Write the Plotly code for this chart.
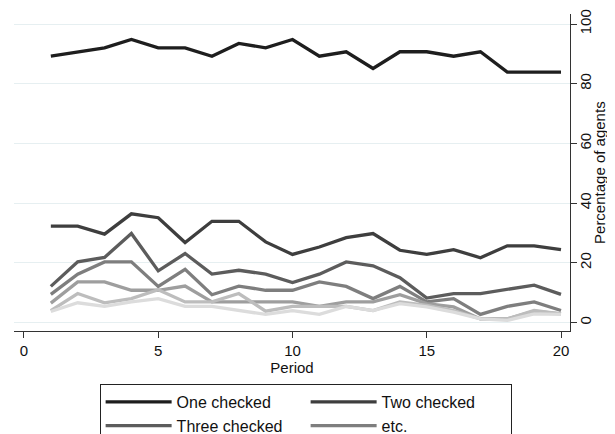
import plotly.graph_objects as go

periods = list(range(1, 21))

one_checked = [89.2, 90.6, 92.0, 94.8, 92.0, 92.0, 89.2, 93.5, 92.0, 94.8,
               89.2, 90.7, 85.1, 90.7, 90.7, 89.2, 90.7, 83.9, 83.9, 83.9]
two_checked = [32.3, 32.3, 29.6, 36.4, 35.1, 26.8, 33.9, 33.9, 27.0, 22.8,
               25.3, 28.4, 29.8, 24.2, 22.8, 24.4, 21.7, 25.7, 25.7, 24.4]
three_checked = [12.1, 20.3, 21.8, 29.8, 17.3, 23.1, 16.2, 17.5, 16.2, 13.4,
                 16.2, 20.3, 19.0, 15.0, 8.2, 9.7, 9.7, 11.0, 12.5, 9.4]
four_checked = [9.4, 16.2, 20.3, 20.3, 12.1, 17.8, 9.3, 12.2, 10.8, 10.8,
                13.6, 12.1, 8.0, 12.1, 6.9, 8.0, 2.7, 5.4, 6.9, 4.0]
five_checked = [6.5, 13.6, 13.6, 10.8, 10.8, 12.2, 6.9, 6.9, 6.9, 6.9,
                5.4, 6.9, 6.9, 9.3, 6.3, 5.2, 1.2, 1.2, 3.8, 2.9]
six_checked = [4.0, 9.7, 6.6, 8.0, 11.0, 6.9, 6.9, 9.7, 3.8, 5.4,
               5.4, 5.4, 4.0, 6.9, 5.7, 4.0, 1.2, 1.2, 4.0, 2.9]
seven_checked = [3.7, 6.6, 5.4, 6.9, 8.0, 5.4, 5.4, 4.0, 2.7, 4.0,
                 2.7, 5.4, 4.0, 6.3, 5.2, 3.5, 1.2, 0.7, 2.9, 2.7]

series = [
    ("One checked", one_checked, "#1e1e1e", True),
    ("Two checked", two_checked, "#3e3e3e", True),
    ("Three checked", three_checked, "#5c5c5c", True),
    ("etc.", four_checked, "#7e7e7e", True),
    ("five", five_checked, "#9e9e9e", False),
    ("six", six_checked, "#bdbdbd", False),
    ("seven", seven_checked, "#dcdcdc", False),
]

x_ticks = [0, 5, 10, 15, 20]
y_ticks = [0, 20, 40, 60, 80, 100]

fig = go.Figure()
for name, vals, color, show in series:
    fig.add_trace(go.Scatter(
        x=periods, y=vals, mode="lines", name=name,
        line=dict(color=color, width=3.3),
        showlegend=show,
    ))

font = "Liberation Sans, Arial, Helvetica, sans-serif"

fig.update_layout(
    width=607, height=426,
    margin=dict(l=6, r=45, t=6, b=103, autoexpand=False),
    paper_bgcolor="white", plot_bgcolor="white",
    font=dict(family=font, size=15, color="#111"),
    xaxis=dict(
        range=[-0.372, 20.335], tickvals=x_ticks, ticks="outside", ticklen=6,
        tickcolor="#333", showline=True, linecolor="#333", linewidth=1,
        showgrid=False, zeroline=False,
        title=dict(text="Period", standoff=0, font=dict(size=15)),
        tickfont=dict(size=15),
    ),
    yaxis=dict(
        range=[-2.85, 103.35], tickvals=y_ticks, side="right", tickangle=-90,
        ticks="outside", ticklen=6, tickcolor="#333", showline=True,
        linecolor="#333", linewidth=1, showgrid=True, gridcolor="#e6eff1",
        gridwidth=1, zeroline=False, ticklabelstandoff=-4,
        tickfont=dict(size=15),
    ),
    legend=dict(
        orientation="h", x=0.154, xanchor="left", y=-0.167, yanchor="top",
        bordercolor="#222", borderwidth=1, bgcolor="white",
        entrywidth=124, entrywidthmode="pixels", itemwidth=66,
        font=dict(size=16), tracegroupgap=0,
    ),
    annotations=[dict(
        text="Percentage of agents", xref="paper", yref="paper",
        x=1.053, y=0.5, xanchor="center", yanchor="middle",
        textangle=-90, showarrow=False, font=dict(size=15),
    )],
)

fig.write_html("out.html")
